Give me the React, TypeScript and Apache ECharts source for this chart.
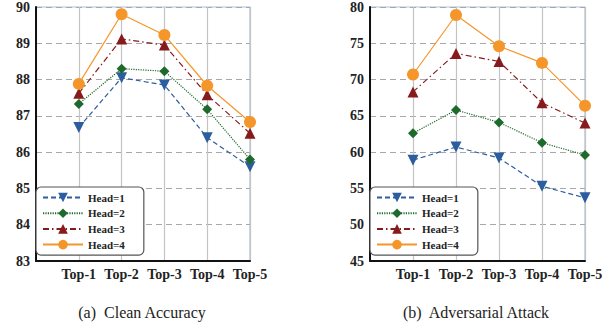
import React, { useEffect, useRef } from "react";
import * as echarts from "echarts";

const categories = ["Top-1", "Top-2", "Top-3", "Top-4", "Top-5"];
const seriesNames = ["Head=1", "Head=2", "Head=3", "Head=4"];

const cleanHead1 = [86.68, 88.05, 87.85, 86.4, 85.6];
const cleanHead2 = [87.33, 88.3, 88.23, 87.18, 85.8];
const cleanHead3 = [87.62, 89.12, 88.95, 87.58, 86.52];
const cleanHead4 = [87.88, 89.8, 89.23, 87.83, 86.83];

const advHead1 = [58.9, 60.7, 59.2, 55.3, 53.7];
const advHead2 = [62.6, 65.8, 64.1, 61.3, 59.6];
const advHead3 = [68.3, 73.6, 72.5, 66.8, 64.0];
const advHead4 = [70.7, 78.9, 74.6, 72.3, 66.4];

const cleanTicks = { min: 83, max: 90, interval: 1 };
const advTicks = { min: 45, max: 80, interval: 5 };

const captions = ["(a)  Clean Accuracy", "(b)  Adversarial Attack"];

const styles = [
  { color: "#2c5d9e", type: [5, 3], symbol: "triangle", rotate: 180, size: 11 },
  { color: "#1d6a2c", type: [1.2, 1.2], symbol: "diamond", rotate: 0, size: 10 },
  { color: "#861a1c", type: [6, 3, 1.5, 3], symbol: "triangle", rotate: 0, size: 11 },
  { color: "#f5962a", type: "solid", symbol: "circle", rotate: 0, size: 12 },
];

const FONT = "Liberation Serif";

export default function App() {
  const ref = useRef<HTMLDivElement>(null);
  useEffect(() => {
    if (!ref.current) return;
    const chart = echarts.init(ref.current, null, { renderer: "svg" });
    const grids = [
      { left: 36, right: 366, top: 7, bottom: 67 },
      { left: 370, right: 31, top: 7, bottom: 67 },
    ];
    const dataSets = [
      [cleanHead1, cleanHead2, cleanHead3, cleanHead4],
      [advHead1, advHead2, advHead3, advHead4],
    ];
    const ticks = [cleanTicks, advTicks];
    const series: any[] = [];
    dataSets.forEach((set, gi) => {
      set.forEach((vals, si) => {
        const s = styles[si];
        series.push({
          type: "line",
          name: seriesNames[si],
          xAxisIndex: gi,
          yAxisIndex: gi,
          data: vals.map((v, i) => [i + 1, v]),
          symbol: s.symbol,
          symbolRotate: s.rotate,
          symbolSize: s.size,
          lineStyle: { color: s.color, width: 1.2, type: s.type as any },
          itemStyle: { color: s.color },
          z: 3 + si,
        });
      });
    });
    chart.setOption({
      animation: false,
      grid: grids.map((g) => ({
        ...g,
        show: true,
        borderColor: "#a9c0e2",
        borderWidth: 1.2,
        backgroundColor: "transparent",
      })),
      xAxis: grids.map((_, gi) => ({
        type: "value",
        gridIndex: gi,
        min: 0,
        max: 5,
        interval: 1,
        axisLine: { show: true, lineStyle: { color: "#111", width: 2 } },
        axisTick: { show: false },
        splitLine: { show: true, lineStyle: { color: "#c4c4c4", width: 1.2 } },
        axisLabel: {
          formatter: (v: number) => categories[v - 1] ?? "",
          fontFamily: FONT,
          fontWeight: "bold",
          fontSize: 14,
          color: "#222",
          margin: 6,
        },
      })),
      yAxis: grids.map((_, gi) => ({
        type: "value",
        gridIndex: gi,
        min: ticks[gi].min,
        max: ticks[gi].max,
        interval: ticks[gi].interval,
        axisLine: { show: true, lineStyle: { color: "#111", width: 2 } },
        axisTick: { show: false },
        splitLine: {
          show: true,
          lineStyle: { color: "#a8a8a8", width: 1.2, type: [6, 4] },
        },
        axisLabel: {
          fontFamily: FONT,
          fontWeight: "bold",
          fontSize: 14,
          color: "#222",
          margin: 6,
        },
      })),
      legend: grids.map((g) => ({
        orient: "vertical",
        left: g.left,
        top: 187,
        data: seriesNames,
        itemWidth: 40,
        itemHeight: 12,
        itemGap: 4.7,
        itemTextGap: 9,
        padding: [5, 19, 5, 6],
        borderColor: "#555",
        borderWidth: 1.2,
        borderRadius: 5,
        backgroundColor: "#fff",
        selectedMode: false,
        textStyle: { fontFamily: FONT, fontWeight: "bold", fontSize: 11, color: "#222" },
        z: 10,
      })),
      graphic: captions.map((c, i) => ({
        type: "text",
        x: i === 0 ? 142 : 476,
        y: 312,
        style: {
          text: c,
          font: `16px "${FONT}"`,
          fill: "#222",
          align: "center",
          verticalAlign: "middle",
        },
      })),
      series,
    });
    return () => chart.dispose();
  }, []);
  return (
    <div
      ref={ref}
      style={{ position: "absolute", left: 0, top: 0, width: 616, height: 328 }}
    />
  );
}
